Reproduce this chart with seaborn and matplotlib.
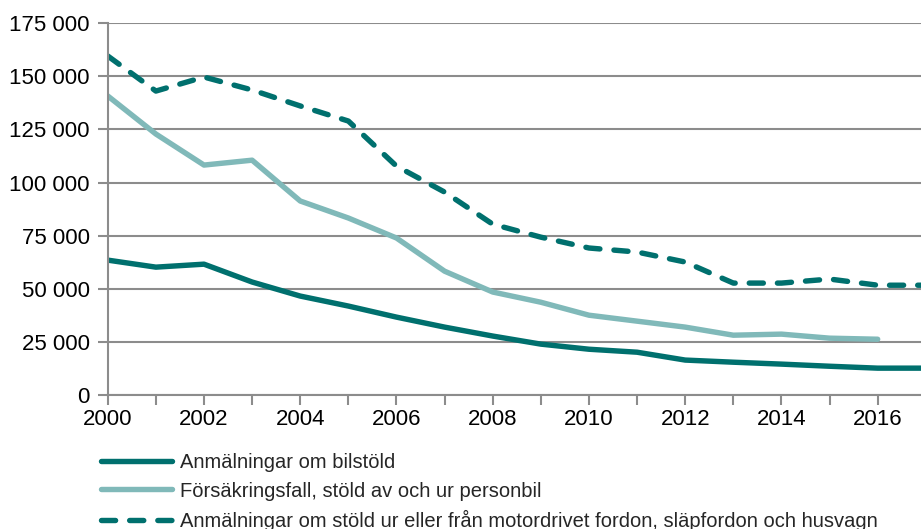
import matplotlib.pyplot as plt
import pandas as pd
import seaborn as sns
from matplotlib.ticker import FuncFormatter

years = list(range(2000, 2018))
bilstold = [63500, 60200, 61600, 53200, 46600, 41900, 36700, 32000, 27800,
            24000, 21600, 20200, 16500, 15500, 14600, 13600, 12700, 12700]
forsakring = [140700, 122800, 108200, 110500, 91300, 83300, 73900, 58300, 48500,
              43700, 37600, 34800, 32000, 28200, 28700, 26800, 26300, None]
motordrivet = [159500, 143000, 149600, 143500, 136000, 128900, 107700, 95500, 80400,
               74300, 69200, 67300, 62600, 52700, 52700, 54600, 51700, 51700]

labels = ["Anmälningar om bilstöld",
          "Försäkringsfall, stöld av och ur personbil",
          "Anmälningar om stöld ur eller från motordrivet fordon, släpfordon och husvagn"]

df = pd.DataFrame({"år": years, labels[0]: bilstold, labels[1]: forsakring, labels[2]: motordrivet})

sns.set_style("white")
plt.rcParams['font.family'] = ['Liberation Sans', 'DejaVu Sans']

dark = "#00706e"
light = "#80b9b9"
grey = "#8c8c8c"

fig = plt.figure(figsize=(9.21, 5.29), dpi=100)
ax = fig.add_axes([0.117, 0.253, 0.883, 0.7035])

sns.lineplot(data=df, x="år", y=labels[0], ax=ax, color=dark, linewidth=3.9, label=labels[0])
sns.lineplot(data=df.dropna(), x="år", y=labels[1], ax=ax, color=light, linewidth=3.9, label=labels[1])
sns.lineplot(data=df, x="år", y=labels[2], ax=ax, color=dark, linewidth=3.9, label=labels[2])
ax.lines[-1].set_dashes((2.6, 2.6))
ax.lines[-1].set_dash_capstyle('round')

ax.set_xlim(2000, 2016.9)
ax.set_ylim(0, 175000)
ax.set_yticks(range(0, 175001, 25000))
ax.yaxis.set_major_formatter(FuncFormatter(lambda v, p: f"{int(v):,}".replace(",", " ")))
ax.set_xticks(years[:17])
ax.set_xticklabels([str(y) if y % 2 == 0 else "" for y in years[:17]])
ax.set_xlabel("")
ax.set_ylabel("")
ax.grid(axis="y", color=grey, linewidth=1.5)
ax.set_axisbelow(True)
for s in ["top", "right"]:
    ax.spines[s].set_visible(False)
for s in ["left", "bottom"]:
    ax.spines[s].set_color(grey)
    ax.spines[s].set_linewidth(1.5)
ax.tick_params(axis="both", which="major", length=7, width=1.5, color=grey,
               labelsize=16, labelcolor="black", direction="out")
ax.tick_params(axis="x", pad=3, bottom=True)
ax.tick_params(axis="y", pad=6, left=True)

leg = ax.legend(loc="upper left", bbox_to_anchor=(-0.018, -0.135), frameon=False, fontsize=14.5,
                handlelength=3.5, handletextpad=0.4, labelspacing=0.45, borderaxespad=0)
leg.get_lines()[2].set_dash_capstyle('round')

fig.savefig("out.png", dpi=100)
